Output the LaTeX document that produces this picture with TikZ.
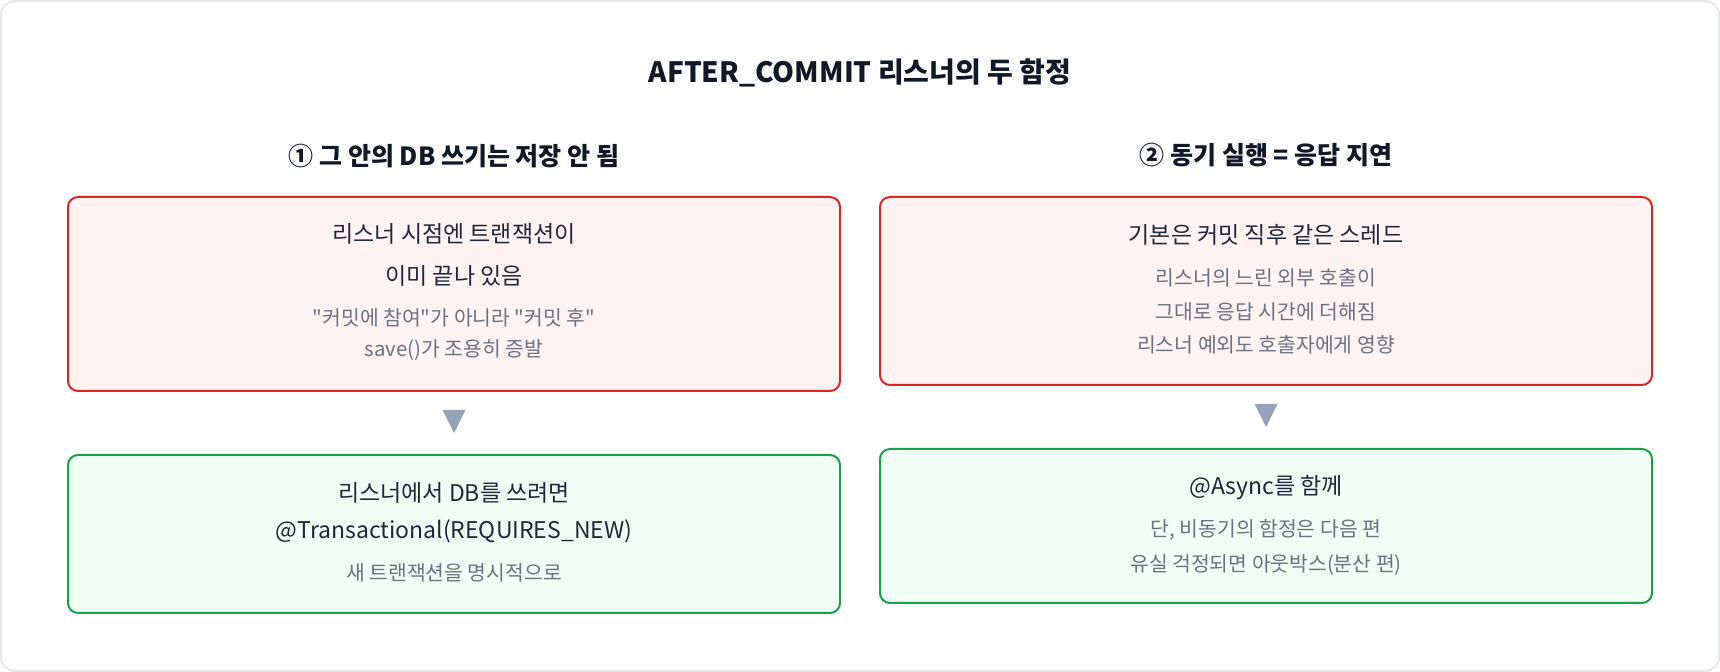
\documentclass[tikz,border=0pt]{standalone}
\usepackage{fontspec}
\setmainfont{Noto Sans CJK KR}
\usetikzlibrary{calc}

\definecolor{frameline}{HTML}{E5E7EB}
\definecolor{titletext}{HTML}{111827}
\definecolor{maintext}{HTML}{1F2937}
\definecolor{subtext}{HTML}{6B7280}
\definecolor{warnline}{HTML}{DC2626}
\definecolor{warnfill}{HTML}{FEF2F2}
\definecolor{fixline}{HTML}{16A34A}
\definecolor{fixfill}{HTML}{F0FDF4}
\definecolor{pointer}{HTML}{94A3B8}

\begin{document}
\begin{tikzpicture}[x=0.5pt, y=-0.5pt,
    warnbox/.style={draw=warnline, fill=warnfill, line width=1pt, rounded corners=5pt, minimum width=386pt, inner sep=0pt},
    fixbox/.style={draw=fixline, fill=fixfill, line width=1pt, rounded corners=5pt, minimum width=386pt, inner sep=0pt},
    headtxt/.style={text=titletext, font=\fontsize{12.5pt}{15pt}\selectfont\bfseries, inner sep=0pt},
    maintxt/.style={text=maintext, font=\fontsize{11.5pt}{14pt}\selectfont, inner sep=0pt},
    subtxt/.style={text=subtext, font=\fontsize{10.2pt}{12pt}\selectfont, inner sep=0pt}]
    \useasboundingbox (0,0) rectangle (1720,672);
    % Frame
    \draw[frameline, line width=1pt, rounded corners=7pt, fill=white] (1,1) rectangle (1719,671);

    % Title
    \node[text=titletext, font=\fontsize{14pt}{17pt}\selectfont\bfseries, inner sep=0pt] (title) at (860,73) {AFTER\_COMMIT 리스너의 두 함정};

    % Left column: writes inside the listener
    \node[headtxt] (head1) at (454,156) {① 그 안의 DB 쓰기는 저장 안 됨};
    \node[warnbox, minimum height=97pt] (warn1) at (454,294) {};
    \node[maintxt] (warn1a) at (454,234) {리스너 시점엔 트랜잭션이};
    \node[maintxt] (warn1b) at (454,276) {이미 끝나 있음};
    \node[subtxt] (warn1c) at (454,318) {\textquotedbl 커밋에 참여\textquotedbl 가 아니라 \textquotedbl 커밋 후\textquotedbl};
    \node[subtxt] (warn1d) at (454,350) {save()가 조용히 증발};

    \node[fixbox, minimum height=79pt] (fix1) at (454,534) {};
    \node[maintxt] (fix1a) at (454,493) {리스너에서 DB를 쓰려면};
    \node[maintxt] (fix1b) at (454,531) {@Transactional(REQUIRES\_NEW)};
    \node[subtxt] (fix1c) at (454,573) {새 트랜잭션을 명시적으로};

    % Right column: synchronous execution
    \node[headtxt] (head2) at (1266,155) {② 동기 실행 = 응답 지연};
    \node[warnbox, minimum height=94pt] (warn2) at (1266,291) {};
    \node[maintxt] (warn2a) at (1266,235) {기본은 커밋 직후 같은 스레드};
    \node[subtxt] (warn2b) at (1266,278) {리스너의 느린 외부 호출이};
    \node[subtxt] (warn2c) at (1266,312) {그대로 응답 시간에 더해짐};
    \node[subtxt] (warn2d) at (1266,345) {리스너 예외도 호출자에게 영향};

    \node[fixbox, minimum height=77pt] (fix2) at (1266,526) {};
    \node[maintxt] (fix2a) at (1266,488) {@Async를 함께};
    \node[subtxt] (fix2b) at (1266,530) {단, 비동기의 함정은 다음 편};
    \node[subtxt] (fix2c) at (1266,565) {유실 걱정되면 아웃박스(분산 편)};

    % Pointers
    \coordinate (mid1) at ($(warn1.south)!0.5!(fix1.north)$);
    \coordinate (mid2) at ($(warn2.south)!0.5!(fix2.north)$);
    \fill[pointer] ($(mid1)+(-11.5,-13)$) -- ($(mid1)+(11.5,-13)$) -- ($(mid1)+(0,10)$) -- cycle;
    \fill[pointer] ($(mid2)+(-11.5,-13)$) -- ($(mid2)+(11.5,-13)$) -- ($(mid2)+(0,10)$) -- cycle;
\end{tikzpicture}
\end{document}
